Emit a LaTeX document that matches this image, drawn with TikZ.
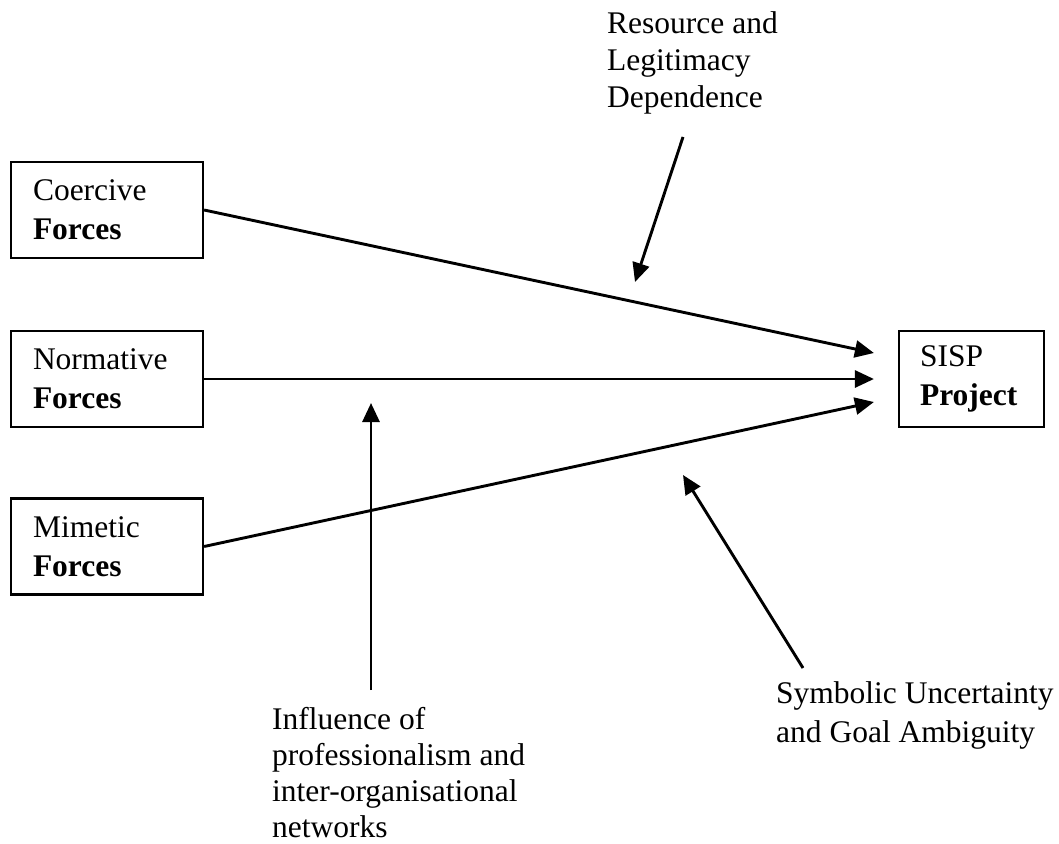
\documentclass[tikz,border=0pt]{standalone}
\usepackage{fontspec}
\setmainfont{Liberation Serif}
\usetikzlibrary{arrows.meta}

\begin{document}
\begin{tikzpicture}[x=1pt, y=-1pt,
  forcebox/.style={draw, line width=2.2pt, inner xsep=22pt, inner ysep=0pt,
    minimum height=96pt, text width=148pt, align=left,
    font=\fontsize{31.5}{39}\selectfont},
  outbox/.style={forcebox, inner xsep=21pt, text width=103pt},
  label/.style={inner sep=0pt, anchor=north west, align=left},
  conn/.style={line width=2.9pt, -{Triangle[length=19pt,width=17pt]}}
]
\useasboundingbox (0,0) rectangle (1059,843);

% the three institutional forces and the project they act on
\node[forcebox] (coer) at (107,210)   {Coercive\\\textbf{Forces}};
\node[forcebox] (norm) at (107,379)   {Normative\\\textbf{Forces}};
\node[forcebox] (mime) at (107,546.5) {Mimetic\\\textbf{Forces}};
\node[outbox]   (sisp) at (971.5,379) {SISP\\\textbf{Project}};

% moderating conditions
\node[label, font=\fontsize{31.5}{37}\selectfont] (res) at (607,11.5)
  {Resource and\\Legitimacy\\Dependence};
\node[label, font=\fontsize{31.5}{36}\selectfont] (infl) at (272,707.5)
  {Influence of\\professionalism and\\inter-organisational\\networks};
\node[label, font=\fontsize{31.5}{39}\selectfont] (symb) at (776,681.5)
  {Symbolic Uncertainty\\and Goal Ambiguity};

% main paths into the project
\draw[conn] (coer.east) -- ([xshift=-24pt, yshift=26pt]sisp.west);
\draw[conn] (norm.east) -- ([xshift=-24pt]sisp.west);
\draw[conn] (mime.east) -- ([xshift=-24pt, yshift=-23pt]sisp.west);

% moderator arrows
\coordinate (resTail)  at (683,137);
\coordinate (resTip)   at (635,282);
\coordinate (inflTail) at (371,690);
\coordinate (inflTip)  at (371,403);
\coordinate (symbTail) at (803,668);
\coordinate (symbTip)  at (683,475);
\draw[conn] (resTail) -- (resTip);
\draw[conn] (inflTail) -- (inflTip);
\draw[conn] (symbTail) -- (symbTip);
\end{tikzpicture}
\end{document}
